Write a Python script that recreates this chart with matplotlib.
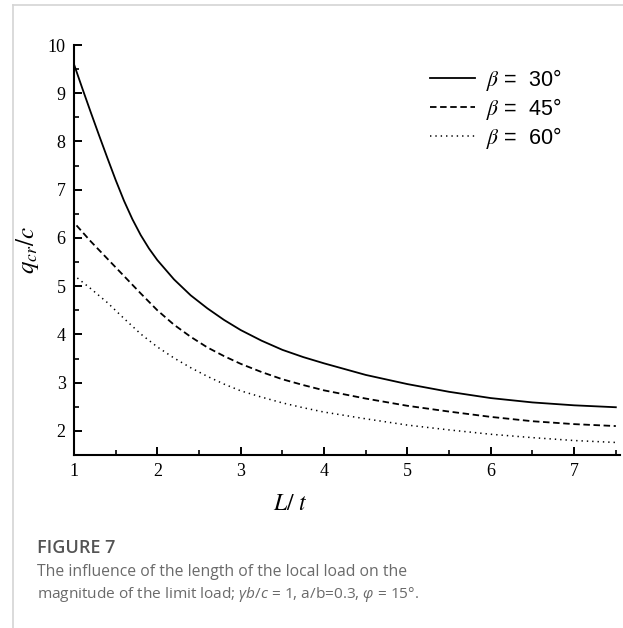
import matplotlib
matplotlib.use("Agg")
import matplotlib.pyplot as plt
from matplotlib.font_manager import FontProperties
from matplotlib.lines import Line2D
from matplotlib.ticker import MultipleLocator

# ---- data ----
L_30 = [1.0, 1.1, 1.2, 1.3, 1.4, 1.5, 1.6, 1.7, 1.8, 1.9, 2.0, 2.2, 2.4, 2.6, 2.8,
        3.0, 3.25, 3.5, 3.75, 4.0, 4.5, 5.0, 5.5, 6.0, 6.5, 7.0, 7.5]
q_30 = [9.60, 9.10, 8.61, 8.13, 7.66, 7.20, 6.77, 6.39, 6.06, 5.78, 5.54, 5.14, 4.81,
        4.54, 4.30, 4.09, 3.87, 3.68, 3.53, 3.40, 3.16, 2.97, 2.81, 2.68, 2.59, 2.53,
        2.49]

L_45 = [1.03, 1.2, 1.4, 1.6, 1.8, 2.0, 2.2, 2.4, 2.6, 2.8, 3.0, 3.25, 3.5, 3.75,
        4.0, 4.5, 5.0, 5.5, 6.0, 6.5, 7.0, 7.5]
q_45 = [6.26, 5.93, 5.57, 5.21, 4.85, 4.50, 4.20, 3.95, 3.73, 3.55, 3.39, 3.22, 3.07,
        2.95, 2.84, 2.67, 2.52, 2.40, 2.29, 2.20, 2.14, 2.10]

L_60 = [1.04, 1.2, 1.4, 1.6, 1.8, 2.0, 2.2, 2.4, 2.6, 2.8, 3.0, 3.25, 3.5, 3.75,
        4.0, 4.5, 5.0, 5.5, 6.0, 6.5, 7.0, 7.5]
q_60 = [5.17, 4.95, 4.66, 4.33, 4.01, 3.74, 3.51, 3.31, 3.13, 2.97, 2.83, 2.70, 2.58,
        2.48, 2.39, 2.25, 2.12, 2.02, 1.93, 1.86, 1.80, 1.76]

labels = [r"$\beta$ =  30°", r"$\beta$ =  45°", r"$\beta$ =  60°"]
x_ticks = [1, 2, 3, 4, 5, 6, 7]
y_ticks = [2, 3, 4, 5, 6, 7, 8, 9, 10]

W, H = 623, 628
fig = plt.figure(figsize=(W / 100, H / 100), dpi=100)

def fx(px):
    return px / W

def fy(py):
    return 1 - py / H

ax = fig.add_axes([fx(74), fy(455), fx(620) - fx(74), fy(45) - fy(455)])

ax.plot(L_30, q_30, color="black", lw=1.3, ls="-", label=labels[0])
ax.plot(L_45, q_45, color="black", lw=1.3, ls=(0, (3.6, 2.0)), label=labels[1])
ax.plot(L_60, q_60, color="black", lw=1.1, ls=(0, (0.9, 2.6)), label=labels[2])

ax.set_xlim(1, 7.55)
ax.set_ylim(1.5, 10)
ax.set_xticks(x_ticks)
ax.set_yticks(y_ticks)
ax.xaxis.set_minor_locator(MultipleLocator(0.5))
ax.yaxis.set_minor_locator(MultipleLocator(0.5))

for s in ["top", "right"]:
    ax.spines[s].set_visible(False)
for s in ["left", "bottom"]:
    ax.spines[s].set_linewidth(1.5)

ax.tick_params(which="major", direction="in", length=6, width=1.4)
ax.tick_params(which="minor", direction="in", length=3.5, width=1.2)
ax.tick_params(axis="x", which="major", pad=6)
ax.tick_params(axis="y", which="major", pad=6)

tick_font = FontProperties(family="Liberation Serif", size=13)
for lab in ax.get_xticklabels() + ax.get_yticklabels():
    lab.set_fontproperties(tick_font)

ax.set_ylabel(r"$q_{cr}/c$", fontsize=18, math_fontfamily="stix")
ax.yaxis.set_label_coords(-0.06, 0.5)
ax.set_xlabel(r"$L/\ t$", fontsize=17, math_fontfamily="stix")
ax.xaxis.set_label_coords(0.397, -0.088)

leg_font = FontProperties(family="Liberation Sans", size=15.5, math_fontfamily="stix")
ax.legend(loc="upper left", bbox_to_anchor=(fx(430), fy(67)),
          bbox_transform=fig.transFigure, frameon=False, prop=leg_font,
          handlelength=2.1, handletextpad=0.5, labelspacing=0.14, borderpad=0,
          borderaxespad=0)

# light frame around the figure panel
fig.add_artist(Line2D([fx(13), 1.0], [fy(5), fy(5)], transform=fig.transFigure,
                      color="#d4d4d4", lw=1.2))
fig.add_artist(Line2D([fx(13), fx(13)], [fy(5), 0.0], transform=fig.transFigure,
                      color="#d4d4d4", lw=1.2))

# caption
plt.rcParams["mathtext.fontset"] = "custom"
plt.rcParams["mathtext.it"] = "Open Sans:italic"
plt.rcParams["mathtext.rm"] = "Open Sans"
fig.text(fx(37), fy(553), "FIGURE 7", family="Open Sans", weight="semibold",
         size=13, color="#545454", va="baseline", ha="left")
fig.text(fx(37), fy(576), "The influence of the length of the local load on the",
         family="Open Sans", size=11.3, color="#6a6a6a", va="baseline", ha="left")
fig.text(fx(37), fy(598),
         r"magnitude of the limit load; $\gamma b/c$ = 1, a/b=0.3, $\varphi$ = 15°.",
         family="Open Sans", size=11.1, color="#6a6a6a", va="baseline", ha="left",
         math_fontfamily="custom")

fig.savefig("out.png", dpi=100)
